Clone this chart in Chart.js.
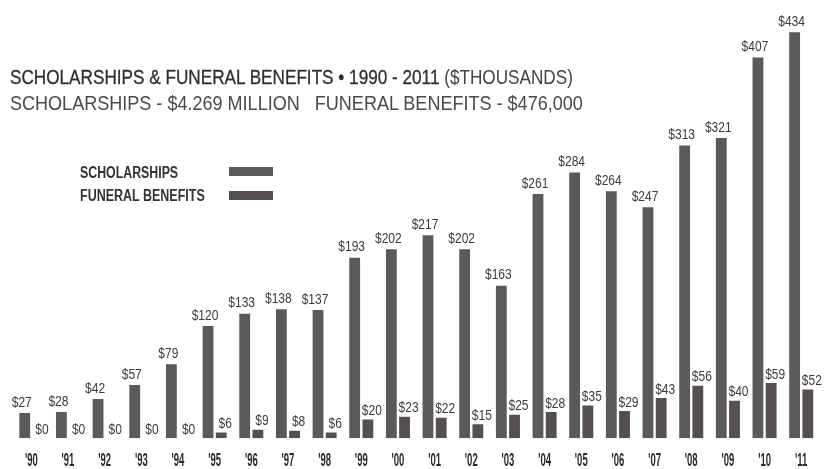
<!DOCTYPE html>
<html>
<head>
<meta charset="utf-8">
<script src="https://cdn.jsdelivr.net/npm/chart.js@4/dist/chart.umd.min.js"></script>
<style>
  body { margin: 0; background: #fff; }
  #wrap { position: relative; width: 827px; height: 469px; }
  #chart { position: absolute; left: 0; top: 0; }
  .fit { position: absolute; font-family: "Liberation Sans", Arial, sans-serif; white-space: nowrap; transform-origin: 0 0; }
  #t1 { left: 10px; top: 65px; font-size: 21px; color: #2e2e2e; -webkit-text-stroke: 0.3px #2e2e2e; }
  #t1 .light { color: #444; -webkit-text-stroke: 0; }
  #t2 { left: 10px; top: 91px; font-size: 21px; color: #4a4a4a; }
  .leg { left: 80px; font-weight: bold; font-size: 16px; color: #333; }
  .sw { position: absolute; left: 229px; width: 44px; height: 9px; background: #5a5a5a; }
</style>
</head>
<body>
<div id="wrap">
  <canvas id="chart" width="827" height="469"></canvas>
  <div class="fit" id="t1" data-w="563">SCHOLARSHIPS &amp; FUNERAL BENEFITS • 1990 - 2011 <span class="light">($THOUSANDS)</span></div>
  <div class="fit" id="t2" data-w="573">SCHOLARSHIPS - $4.269 MILLION &nbsp; FUNERAL BENEFITS - $476,000</div>
  <div class="fit leg" style="top:164px" data-w="98">SCHOLARSHIPS</div>
  <div class="sw" style="top:167px"></div>
  <div class="fit leg" style="top:187px" data-w="125">FUNERAL BENEFITS</div>
  <div class="sw" style="top:191px; background:#554f52"></div>
</div>
<script>
const years = ["'90", "'91", "'92", "'93", "'94", "'95", "'96", "'97", "'98", "'99", "'00",
               "'01", "'02", "'03", "'04", "'05", "'06", "'07", "'08", "'09", "'10", "'11"];
const scholarships = [27, 28, 42, 57, 79, 120, 133, 138, 137, 193, 202,
                      217, 202, 163, 261, 284, 264, 247, 313, 321, 407, 434];
const funeralBenefits = [0, 0, 0, 0, 0, 6, 9, 8, 6, 20, 23,
                         22, 15, 25, 28, 35, 29, 43, 56, 40, 59, 52];

// squeeze the html text to the condensed widths of the original
document.querySelectorAll('.fit').forEach(el => {
    const w = parseFloat(el.dataset.w);
    el.style.transform = 'scaleX(' + (w / el.scrollWidth) + ')';
});

function condensedText(ctx, text, x, y, sx) {
    ctx.save();
    ctx.translate(x, y);
    ctx.scale(sx, 1);
    ctx.fillText(text, 0, 0);
    ctx.restore();
}

// value labels above each bar, drawn condensed
const valueLabels = {
    id: 'valueLabels',
    afterDatasetsDraw(chart) {
        const ctx = chart.ctx;
        ctx.save();
        ctx.font = '15px "Liberation Sans", Arial, sans-serif';
        ctx.fillStyle = '#3a3a3a';
        ctx.textAlign = 'center';
        ctx.textBaseline = 'bottom';
        chart.data.datasets.forEach((ds, i) => {
            const meta = chart.getDatasetMeta(i);
            const shift = i === 0 ? -3 : 4;
            const lift = i === 0 ? 3 : 1;
            meta.data.forEach((bar, j) => {
                condensedText(ctx, '$' + ds.data[j], bar.x + shift, bar.y - lift, 0.8);
            });
        });
        ctx.restore();
    }
};

// the x axis keeps its ticks; their labels are redrawn narrow like the print
const narrowTicks = {
    id: 'narrowTicks',
    afterDraw(chart) {
        const scale = chart.scales.x;
        const ctx = chart.ctx;
        ctx.save();
        ctx.font = 'bold 19px "Liberation Sans", Arial, sans-serif';
        ctx.fillStyle = '#2a2a2a';
        ctx.textAlign = 'center';
        ctx.textBaseline = 'middle';
        scale.ticks.forEach((t, i) => {
            condensedText(ctx, scale.getLabelForValue(t.value), scale.getPixelForTick(i), 461, 0.5);
        });
        ctx.restore();
    }
};

new Chart(document.getElementById('chart'), {
    type: 'bar',
    data: {
        labels: years,
        datasets: [
            { label: 'SCHOLARSHIPS', data: scholarships, backgroundColor: '#5a5a5a' },
            { label: 'FUNERAL BENEFITS', data: funeralBenefits, backgroundColor: '#554f52' }
        ]
    },
    options: {
        responsive: false,
        animation: false,
        layout: { padding: { left: 13, right: 4, top: 8, bottom: -16 } },
        datasets: { bar: { categoryPercentage: 0.72, barPercentage: 0.82 } },
        plugins: { legend: { display: false }, tooltip: { enabled: false } },
        scales: {
            x: {
                grid: { display: false, drawTicks: false },
                border: { display: false },
                ticks: {
                    padding: 15,
                    color: 'rgba(0,0,0,0)',
                    font: { family: '"DejaVu Sans"', size: 14, weight: 'bold condensed' }
                }
            },
            y: { display: false, min: 0, max: 460 }
        }
    },
    plugins: [valueLabels, narrowTicks]
});
</script>
</body>
</html>
